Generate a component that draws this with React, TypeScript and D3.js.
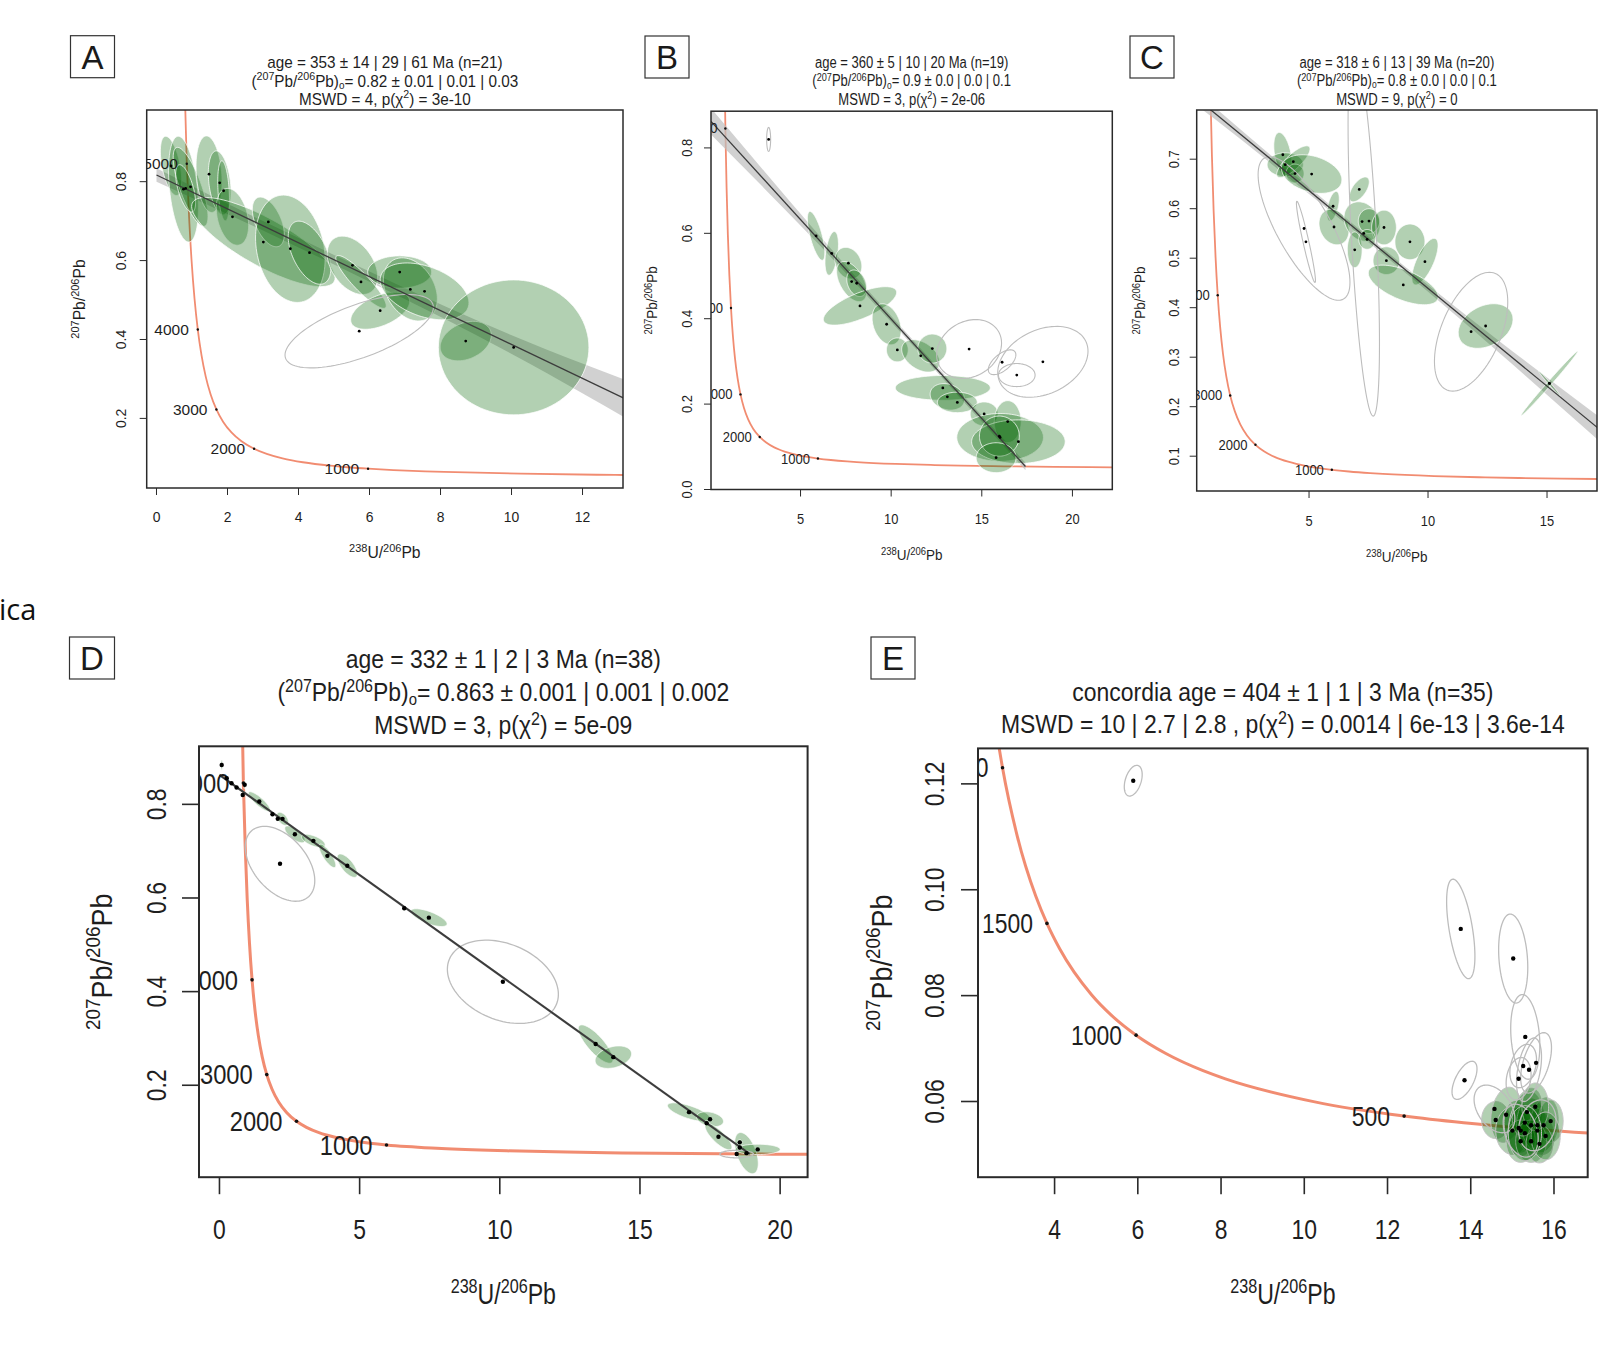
import React from "react";
import * as d3 from "d3";

const FONT = "'Liberation Sans', Arial, Helvetica, sans-serif";
const LETTER_FONT = "'Liberation Sans', Arial, sans-serif";

type Ell = [number, number, number, number, number]; // x, y, sx, sy, rho

// Tera-Wasserburg concordia (age in Ma, 238U/206Pb, 207Pb/206Pb)
const concAge = [200, 250, 300, 350, 400, 450, 500, 600, 750, 800, 900, 1000, 1100, 1200, 1400, 1500, 1600, 1800, 2000, 2250, 2500, 2750, 3000, 3250, 3500, 3750, 4000, 4250, 4500, 4750, 5000, 5500];
const concX = [31.735, 25.289, 20.992, 17.923, 15.621, 13.831, 12.399, 10.252, 8.105, 7.568, 6.674, 5.959, 5.3745, 4.8874, 4.1226, 3.8168, 3.5495, 3.1045, 2.7491, 2.3941, 2.1109, 1.8796, 1.6874, 1.5253, 1.3868, 1.2673, 1.163, 1.0713, 0.9902, 0.918, 0.8533, 0.7423];
const concY = [0.05013, 0.05123, 0.05236, 0.05352, 0.05473, 0.05597, 0.05724, 0.05993, 0.06428, 0.06583, 0.06907, 0.07253, 0.07622, 0.08016, 0.08884, 0.09364, 0.09876, 0.11009, 0.12304, 0.14192, 0.16435, 0.191, 0.22275, 0.26068, 0.30597, 0.3602, 0.42517, 0.5032, 0.5969, 0.70977, 0.84562, 1.2074];

const ageTicksAD = [1000, 2000, 3000, 4000, 5000];
const ageTicksE = [500, 1000, 1500, 2000];

// ---- panel A
const greenA: Ell[] = [
  [0.41, 0.84, 0.3, 0.075, -0.5],
  [0.76, 0.781, 0.42, 0.134, -0.35],
  [0.96, 0.787, 0.49, 0.1, -0.75],
  [0.82, 0.783, 0.28, 0.06, -0.6],
  [1.48, 0.819, 0.366, 0.097, -0.2],
  [1.78, 0.797, 0.32, 0.081, -0.3],
  [1.89, 0.777, 0.165, 0.076, -0.3],
  [2.14, 0.711, 0.455, 0.072, -0.3],
  [3.01, 0.647, 2.02, 0.113, -0.8],
  [3.15, 0.698, 0.45, 0.063, -0.5],
  [3.77, 0.63, 0.98, 0.136, -0.2],
  [4.31, 0.62, 0.6, 0.08, -0.5],
  [5.52, 0.588, 0.71, 0.074, -0.4],
  [5.76, 0.546, 0.71, 0.067, -0.9],
  [6.3, 0.473, 0.83, 0.047, 0.5],
  [6.85, 0.571, 0.9, 0.041, 0.0],
  [7.15, 0.527, 0.76, 0.08, -0.3],
  [7.55, 0.522, 1.25, 0.072, -0.4],
  [8.71, 0.396, 0.72, 0.05, 0.3],
  [10.06, 0.38, 2.12, 0.171, 0.0],
];
const rejectA: Ell[] = [[5.71, 0.421, 2.09, 0.093, 0.65]];
const lineA = [0, 0.817, 17.766, 0.0536];
const bandXA = [0, 3, 6, 9, 11, 13.2, 17.8];
const bandHA = [0.017, 0.012, 0.013, 0.019, 0.03, 0.048, 0.085];

// ---- panel B
const greenB: Ell[] = [
  [5.86, 0.594, 0.48, 0.057, -0.7],
  [6.72, 0.553, 0.37, 0.051, 0.4],
  [7.64, 0.53, 0.74, 0.037, -0.2],
  [7.82, 0.487, 0.83, 0.047, -0.5],
  [8.1, 0.483, 0.55, 0.031, -0.3],
  [8.28, 0.43, 2.02, 0.045, 0.7],
  [9.75, 0.387, 0.8, 0.048, -0.3],
  [10.34, 0.327, 0.6, 0.028, 0.0],
  [11.63, 0.313, 1.05, 0.038, -0.4],
  [12.27, 0.33, 0.8, 0.034, 0.0],
  [12.85, 0.238, 2.62, 0.029, 0.0],
  [13.1, 0.217, 0.95, 0.031, -0.2],
  [13.65, 0.204, 1.1, 0.024, 0.0],
  [15.13, 0.177, 0.77, 0.028, 0.0],
  [16.43, 0.159, 0.74, 0.049, 0.0],
  [16.01, 0.122, 2.39, 0.056, 0.0],
  [17.02, 0.112, 2.58, 0.051, 0.0],
  [15.97, 0.125, 1.1, 0.047, 0.0],
  [15.79, 0.0745, 1.1, 0.035, 0.0],
];
const rejectB: Ell[] = [
  [3.24, 0.82, 0.11, 0.028, 0.0],
  [14.3, 0.329, 1.79, 0.069, 0.2],
  [18.37, 0.299, 2.49, 0.083, 0.3],
  [16.93, 0.268, 1.01, 0.027, 0.0],
  [16.12, 0.298, 0.76, 0.029, 0.6],
];
const lineB = [0, 0.865, 17.41, 0.0538];
const bandXB = [0, 3, 6, 10, 14, 17.41];
const bandHB = [0.031, 0.02, 0.011, 0.007, 0.007, 0.009];

// ---- panel C
const greenC: Ell[] = [
  [3.9, 0.709, 0.38, 0.045, -0.4],
  [4.0, 0.689, 0.76, 0.024, 0.0],
  [4.34, 0.695, 0.7, 0.032, 0.8],
  [4.41, 0.671, 0.38, 0.019, 0.0],
  [5.11, 0.67, 1.27, 0.039, -0.3],
  [7.11, 0.639, 0.42, 0.025, 0.6],
  [6.01, 0.605, 0.26, 0.03, 0.5],
  [6.05, 0.563, 0.63, 0.036, -0.2],
  [7.23, 0.574, 0.76, 0.04, -0.2],
  [7.52, 0.575, 0.45, 0.025, 0.0],
  [8.15, 0.562, 0.52, 0.035, 0.0],
  [6.92, 0.517, 0.31, 0.036, 0.0],
  [7.44, 0.538, 0.35, 0.02, 0.0],
  [9.24, 0.533, 0.63, 0.036, 0.0],
  [9.87, 0.493, 0.55, 0.047, 0.7],
  [8.25, 0.495, 0.56, 0.028, 0.0],
  [8.96, 0.446, 1.47, 0.04, -0.6],
  [12.42, 0.363, 1.15, 0.045, 0.3],
  [15.1, 0.247, 1.19, 0.065, 0.995],
  [15.1, 0.247, 0.45, 0.025, -0.99],
];
const rejectC: Ell[] = [
  [4.79, 0.56, 1.93, 0.145, -0.75],
  [4.87, 0.533, 0.4, 0.082, -0.95],
  [7.3, 0.55, 0.66, 0.369, -0.6],
  [11.81, 0.3515, 1.54, 0.12, 0.5],
];
const lineC = [0, 0.834, 19.776, 0.0528];
const bandXC = [0, 1, 5, 9, 13, 17.1, 19.78];
const bandHC = [0.015, 0.012, 0.007, 0.006, 0.012, 0.024, 0.032];

// ---- panel D
const greenD: Ell[] = [
  [0.08, 0.884, 0.03, 0.011, 0.0],
  [0.26, 0.856, 0.05, 0.004, 0.0],
  [0.43, 0.845, 0.05, 0.004, 0.0],
  [0.61, 0.836, 0.05, 0.004, 0.0],
  [0.83, 0.82, 0.05, 0.004, 0.0],
  [0.9, 0.842, 0.03, 0.009, 0.0],
  [1.42, 0.806, 0.39, 0.021, -0.85],
  [1.89, 0.779, 0.06, 0.005, 0.0],
  [2.08, 0.769, 0.06, 0.005, 0.0],
  [2.25, 0.769, 0.21, 0.014, -0.5],
  [2.69, 0.736, 0.36, 0.018, -0.7],
  [3.35, 0.722, 0.42, 0.014, -0.6],
  [3.85, 0.69, 0.3, 0.025, -0.8],
  [4.56, 0.669, 0.36, 0.025, -0.7],
  [6.59, 0.578, 0.06, 0.005, 0.0],
  [7.47, 0.558, 0.65, 0.019, -0.7],
  [13.42, 0.288, 0.62, 0.041, -0.8],
  [14.05, 0.26, 0.65, 0.024, 0.3],
  [16.75, 0.1425, 0.77, 0.02, -0.7],
  [17.5, 0.1275, 0.48, 0.016, -0.3],
  [17.38, 0.119, 0.08, 0.006, 0.0],
  [17.8, 0.09, 0.48, 0.028, -0.8],
  [18.8, 0.055, 0.42, 0.044, -0.5],
  [19.2, 0.063, 0.8, 0.011, 0.0],
  [18.56, 0.078, 0.08, 0.006, 0.0],
  [18.56, 0.067, 0.08, 0.006, 0.0],
];
const rejectD: Ell[] = [
  [2.16, 0.673, 1.24, 0.08, -0.45],
  [10.11, 0.421, 1.98, 0.089, -0.3],
  [18.45, 0.053, 0.6, 0.008, 0.0],
];
const lineD = [0, 0.863, 18.92, 0.0531];
const bandXD = [0, 18.92];
const bandHD = [0.003, 0.003];

// ---- panel E
const greenE: Ell[] = [
  [14.6, 0.0565, 0.34, 0.0035, 0.0],
  [14.85, 0.0575, 0.37, 0.0052, 0.2],
  [15.0, 0.0545, 0.4, 0.0045, 0.0],
  [15.15, 0.055, 0.35, 0.0052, -0.2],
  [15.3, 0.056, 0.4, 0.0058, 0.3],
  [15.45, 0.0555, 0.35, 0.0052, 0.0],
  [15.6, 0.0545, 0.4, 0.0045, -0.3],
  [15.75, 0.0555, 0.35, 0.0052, 0.2],
  [15.92, 0.0563, 0.3, 0.004, 0.0],
  [15.2, 0.0525, 0.35, 0.004, 0.0],
  [15.45, 0.0525, 0.37, 0.004, 0.0],
  [15.65, 0.052, 0.32, 0.0036, 0.0],
  [15.35, 0.058, 0.35, 0.0045, 0.3],
  [15.55, 0.059, 0.32, 0.0045, 0.0],
  [15.8, 0.0535, 0.35, 0.0045, 0.0],
  [15.3, 0.054, 0.4, 0.0052, 0.0],
];
const rejectE: Ell[] = [
  [5.89, 0.1206, 0.215, 0.0029, 0.4],
  [13.76, 0.0926, 0.34, 0.0094, -0.55],
  [15.02, 0.087, 0.35, 0.0084, -0.2],
  [15.31, 0.0722, 0.35, 0.008, -0.2],
  [13.85, 0.064, 0.3, 0.0036, 0.6],
  [15.57, 0.0673, 0.37, 0.0057, 0.5],
  [15.26, 0.0667, 0.32, 0.0041, 0.3],
  [15.4, 0.066, 0.3, 0.006, 0.4],
  [14.57, 0.0586, 0.49, 0.0045, -0.4],
  [15.15, 0.0643, 0.3, 0.004, 0.2],
  [15.6, 0.0555, 0.45, 0.0048, 0.2],
  [15.2, 0.0545, 0.42, 0.005, -0.3],
];

// ---- axes and titles
const xTicksA = [0, 2, 4, 6, 8, 10, 12];
const yTicksA = [0.2, 0.4, 0.6, 0.8];
const xTicksB = [5, 10, 15, 20];
const yTicksB = [0.0, 0.2, 0.4, 0.6, 0.8];
const xTicksC = [5, 10, 15];
const yTicksC = [0.1, 0.2, 0.3, 0.4, 0.5, 0.6, 0.7];
const xTicksD = [0, 5, 10, 15, 20];
const yTicksD = [0.2, 0.4, 0.6, 0.8];
const xTicksE = [4, 6, 8, 10, 12, 14, 16];
const yTicksE = [0.06, 0.08, 0.1, 0.12];

const titleAge = [
  "age = 353 ± 14 | 29 | 61 Ma (n=21)",
  "age = 360 ± 5 | 10 | 20 Ma (n=19)",
  "age = 318 ± 6 | 13 | 39 Ma (n=20)",
  "age = 332 ± 1 | 2 | 3 Ma (n=38)",
  "concordia age = 404 ± 1 | 1 | 3 Ma (n=35)",
];
const titleRatio = ["0.82 ± 0.01 | 0.01 | 0.03", "0.9 ± 0.0 | 0.0 | 0.1", "0.8 ± 0.0 | 0.0 | 0.1", "0.863 ± 0.001 | 0.001 | 0.002"];
const titleMswd = ["4", "3", "9", "3", "10 | 2.7 | 2.8 "];
const titleP = ["3e-10", "2e-06", "0", "5e-09", "0.0014 | 6e-13 | 3.6e-14"];

const Sup = ({ children }: any) => (
  <tspan baselineShift="super" fontSize="70%">{children}</tspan>
);

const ratioLine = (v: string) => (
  <>
    {"("}<Sup>207</Sup>{"Pb/"}<Sup>206</Sup>{"Pb)"}
    <tspan dy="0.22em" fontSize="65%">o</tspan>
    <tspan dy="-0.143em">{"= " + v}</tspan>
  </>
);
const mswdLine = (m: string, p: string) => (
  <>
    {"MSWD = " + m + ", p(χ"}<Sup>2</Sup>{") = " + p}
  </>
);
const xLab = (<>{""}<Sup>238</Sup>{"U/"}<Sup>206</Sup>{"Pb"}</>);
const yLab = (<>{""}<Sup>207</Sup>{"Pb/"}<Sup>206</Sup>{"Pb"}</>);

function SText({ x, y, s = 1, rot = false, anchor = "middle", size, fill = "#1e1e1e", family = FONT, children }: any) {
  const tr = `translate(${x},${y})${rot ? " rotate(-90)" : ""} scale(${s},1)`;
  return (
    <g transform={tr}>
      <text x={0} y={0} textAnchor={anchor} fontSize={size} fontFamily={family} fill={fill}>
        {children}
      </text>
    </g>
  );
}

function ellPath(e: Ell, xs: any, ys: any) {
  const [cx, cy, sx, sy, r] = e;
  const k = Math.sqrt(Math.max(0, 1 - r * r));
  const pts: [number, number][] = d3.range(0, 96).map((i) => {
    const t = (i / 96) * 2 * Math.PI;
    return [xs(cx + sx * Math.cos(t)), ys(cy + sy * (r * Math.cos(t) + k * Math.sin(t)))];
  });
  return (d3.line()(pts) || "") + "Z";
}

const panels = [
  {
    id: "A", box: { l: 146.7, r: 623, t: 110, b: 488 }, xDomain: [-0.276, 13.14], yDomain: [0.0236, 0.9817],
    xTicks: xTicksA, yTicks: yTicksA, yFmt: ".1f", ages: ageTicksAD, green: greenA, reject: rejectA,
    line: lineA, bandX: bandXA, bandH: bandHA, letterBox: [70.5, 35.7, 44, 42],
    title: [titleAge[0], ratioLine(titleRatio[0]), mswdLine(titleMswd[0], titleP[0])], titleBase: [68, 86.5, 104.5], titleSize: 16.8, titleS: 0.91,
    tickSize: 15.3, tickS: 0.91, tickLen: 7, xTickBase: 522, yTickX: 126, axSize: 16, axSX: 0.98, axSY: 0.98, xTitleBase: 558, yTitleX: 85,
    concSize: 15.5, concS: 1.0, concGap: 9, big: false,
  },
  {
    id: "B", box: { l: 711, r: 1112.3, t: 111.2, b: 489.5 }, xDomain: [0.06, 22.2], yDomain: [0, 0.886],
    xTicks: xTicksB, yTicks: yTicksB, yFmt: ".1f", ages: ageTicksAD, green: greenB, reject: rejectB,
    line: lineB, bandX: bandXB, bandH: bandHB, letterBox: [645, 36, 44, 42],
    title: [titleAge[1], ratioLine(titleRatio[1]), mswdLine(titleMswd[1], titleP[1])], titleBase: [68, 86.3, 104.6], titleSize: 16, titleS: 0.815,
    tickSize: 15, tickS: 0.86, tickLen: 7, xTickBase: 524, yTickX: 691.5, axSize: 15, axSX: 0.9, axSY: 0.9, xTitleBase: 560, yTitleX: 657,
    concSize: 14, concS: 0.93, concGap: 8, big: false,
  },
  {
    id: "C", box: { l: 1196.7, r: 1597, t: 110, b: 491 }, xDomain: [0.28, 17.1], yDomain: [0.0297, 0.7994],
    xTicks: xTicksC, yTicks: yTicksC, yFmt: ".1f", ages: ageTicksAD, green: greenC, reject: rejectC,
    line: lineC, bandX: bandXC, bandH: bandHC, letterBox: [1130, 36, 44, 42],
    title: [titleAge[2], ratioLine(titleRatio[2]), mswdLine(titleMswd[2], titleP[2])], titleBase: [68, 86, 104.5], titleSize: 16, titleS: 0.82,
    tickSize: 15, tickS: 0.86, tickLen: 7, xTickBase: 526, yTickX: 1178.5, axSize: 15, axSX: 0.9, axSY: 0.9, xTitleBase: 562, yTitleX: 1145,
    concSize: 14, concS: 0.93, concGap: 8, big: false,
  },
  {
    id: "D", box: { l: 199, r: 807.6, t: 746.3, b: 1177.2 }, xDomain: [-0.73, 20.98], yDomain: [0.0036, 0.924],
    xTicks: xTicksD, yTicks: yTicksD, yFmt: ".1f", ages: ageTicksAD, green: greenD, reject: rejectD,
    line: lineD, bandX: bandXD, bandH: bandHD, letterBox: [69.5, 637, 45, 42],
    title: [titleAge[3], ratioLine(titleRatio[3]), mswdLine(titleMswd[3], titleP[3])], titleBase: [668, 701, 734], titleSize: 25.5, titleS: 0.9,
    tickSize: 27, tickS: 0.85, tickLen: 17, xTickBase: 1239, yTickX: 166, axSize: 30, axSX: 0.77, axSY: 0.9, xTitleBase: 1304, yTitleX: 112,
    concSize: 27, concS: 0.88, concGap: 14, big: true,
  },
  {
    id: "E", box: { l: 978, r: 1587.7, t: 748.4, b: 1177.2 }, xDomain: [2.16, 16.81], yDomain: [0.0457, 0.1267],
    xTicks: xTicksE, yTicks: yTicksE, yFmt: ".2f", ages: ageTicksE, green: greenE, reject: rejectE,
    line: null, bandX: null, bandH: null, letterBox: [871, 637, 44, 42],
    title: [titleAge[4], mswdLine(titleMswd[4], titleP[4])], titleBase: [701, 733], titleSize: 25.5, titleS: 0.9,
    tickSize: 27, tickS: 0.85, tickLen: 17, xTickBase: 1239, yTickX: 944, axSize: 30, axSX: 0.77, axSY: 0.9, xTitleBase: 1304, yTitleX: 892,
    concSize: 27, concS: 0.85, concGap: 14, big: true,
  },
];

function Panel({ p }: any) {
  const { box } = p;
  const xs = d3.scaleLinear().domain(p.xDomain).range([box.l, box.r]);
  const ys = d3.scaleLinear().domain(p.yDomain).range([box.b, box.t]);
  const cx = (box.l + box.r) / 2;
  const cy = (box.t + box.b) / 2;
  const clipId = "clip" + p.id;

  const conc = d3.range(concX.length)
    .map((i) => [concX[i], concY[i]] as [number, number])
    .sort((a, b) => a[0] - b[0]);
  const concPath = d3.line<[number, number]>().x((d) => xs(d[0])).y((d) => ys(d[1])).curve(d3.curveMonotoneX)(conc) || "";

  let bandPath = "";
  let linePath = "";
  if (p.line) {
    const [x0, y0, x1, y1] = p.line;
    const slope = (y1 - y0) / (x1 - x0);
    const yl = (x: number) => y0 + slope * (x - x0);
    const pts = p.bandX.map((x: number, i: number) => ({ x, h: p.bandH[i] }));
    bandPath = d3.area<any>()
      .x((d) => xs(d.x))
      .y0((d) => ys(yl(d.x) - d.h))
      .y1((d) => ys(yl(d.x) + d.h))
      .curve(d3.curveMonotoneX)(pts) || "";
    linePath = d3.line()([[xs(x0), ys(y0)], [xs(x1), ys(y1)]]) || "";
  }

  const yf = d3.format(p.yFmt);
  const dotR = p.big ? 2.2 : 1.4;
  const greenStroke = p.id === "E" ? "#c4c4c4" : "rgba(255,255,255,0.75)";

  return (
    <g>
      <defs>
        <clipPath id={clipId}>
          <rect x={box.l} y={box.t} width={box.r - box.l} height={box.b - box.t} />
        </clipPath>
      </defs>
      <g clipPath={`url(#${clipId})`}>
        <path d={concPath} fill="none" stroke="#ef8062" strokeWidth={p.big ? 3 : 1.8} strokeOpacity={0.9} />
        {bandPath && <path d={bandPath} fill="#bdbdbd" fillOpacity={0.7} stroke="none" />}
        {p.green.map((e: Ell, i: number) => (
          <path key={"g" + i} d={ellPath(e, xs, ys)} fill="rgb(0,100,0)" fillOpacity={0.3} stroke={greenStroke} strokeWidth={1} />
        ))}
        {p.reject.map((e: Ell, i: number) => (
          <path key={"r" + i} d={ellPath(e, xs, ys)} fill="none" stroke="#bdbdbd" strokeWidth={p.big ? 1.3 : 1.1} />
        ))}
        {linePath && <path d={linePath} stroke="#3c3c3c" strokeWidth={p.big ? 2 : 1.3} fill="none" />}
        {p.ages.map((a: number) => {
          const i = concAge.indexOf(a);
          const px = xs(concX[i]);
          const py = ys(concY[i]);
          return (
            <g key={"a" + a}>
              <circle cx={px} cy={py} r={p.big ? 1.8 : 1.2} fill="#111" />
              <SText x={px - p.concGap} y={py + p.concSize * 0.36} s={p.concS} anchor="end" size={p.concSize}>{String(a)}</SText>
            </g>
          );
        })}
        {[...p.green, ...p.reject].map((e: Ell, i: number) => (
          <circle key={"d" + i} cx={xs(e[0])} cy={ys(e[1])} r={dotR} fill="#000" />
        ))}
      </g>
      <rect x={box.l} y={box.t} width={box.r - box.l} height={box.b - box.t} fill="none" stroke="#2a2a2a" strokeWidth={p.big ? 2 : 1.5} />
      {p.xTicks.map((t: number) => (
        <g key={"xt" + t}>
          <line x1={xs(t)} x2={xs(t)} y1={box.b} y2={box.b + p.tickLen} stroke="#2a2a2a" strokeWidth={p.big ? 1.6 : 1} />
          <SText x={xs(t)} y={p.xTickBase} s={p.tickS} size={p.tickSize}>{String(t)}</SText>
        </g>
      ))}
      {p.yTicks.map((t: number) => (
        <g key={"yt" + t}>
          <line x1={box.l - p.tickLen} x2={box.l} y1={ys(t)} y2={ys(t)} stroke="#2a2a2a" strokeWidth={p.big ? 1.6 : 1} />
          <SText x={p.yTickX} y={ys(t)} rot s={p.tickS} size={p.tickSize}>{yf(t)}</SText>
        </g>
      ))}
      <SText x={cx} y={p.xTitleBase} s={p.axSX} size={p.axSize}>{xLab}</SText>
      <SText x={p.yTitleX} y={cy} rot s={p.axSY} size={p.axSize}>{yLab}</SText>
      {p.title.map((line: any, i: number) => (
        <SText key={"t" + i} x={cx} y={p.titleBase[i]} s={p.titleS} size={p.titleSize}>{line}</SText>
      ))}
      <rect x={p.letterBox[0]} y={p.letterBox[1]} width={p.letterBox[2]} height={p.letterBox[3]} fill="#fff" stroke="#333" strokeWidth={1.2} />
      <text
        x={p.letterBox[0] + p.letterBox[2] / 2}
        y={p.letterBox[1] + p.letterBox[3] / 2 + 12}
        textAnchor="middle"
        fontSize={33}
        fontFamily={LETTER_FONT}
        fill="#1a1a1a"
      >
        {p.id}
      </text>
    </g>
  );
}

export default function App() {
  return (
    <svg
      width={1601}
      height={1362}
      viewBox="0 0 1601 1362"
      style={{ position: "absolute", left: 0, top: 0, background: "#fff" }}
    >
      <rect x={0} y={0} width={1601} height={1362} fill="#fff" />
      <text x={-1} y={620} fontSize={29} fontFamily="'Open Sans', 'Liberation Sans', sans-serif" fill="#111">ica</text>
      {panels.map((p) => (
        <Panel key={p.id} p={p} />
      ))}
    </svg>
  );
}
